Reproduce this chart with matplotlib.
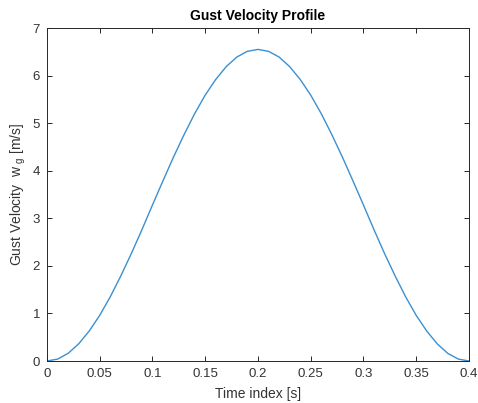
import matplotlib
matplotlib.use("Agg")
import matplotlib.pyplot as plt

# gust profile (time step 0.01 s)
time_s = [0.00, 0.01, 0.02, 0.03, 0.04, 0.05, 0.06, 0.07, 0.08, 0.09, 0.10,
          0.11, 0.12, 0.13, 0.14, 0.15, 0.16, 0.17, 0.18, 0.19, 0.20,
          0.21, 0.22, 0.23, 0.24, 0.25, 0.26, 0.27, 0.28, 0.29, 0.30,
          0.31, 0.32, 0.33, 0.34, 0.35, 0.36, 0.37, 0.38, 0.39, 0.40]
gust_vel = [0.00, 0.04, 0.16, 0.36, 0.63, 0.96, 1.35, 1.79, 2.26, 2.76, 3.28,
            3.79, 4.29, 4.76, 5.20, 5.59, 5.92, 6.19, 6.39, 6.51, 6.55,
            6.51, 6.39, 6.19, 5.92, 5.59, 5.20, 4.76, 4.29, 3.79, 3.28,
            2.76, 2.26, 1.79, 1.35, 0.96, 0.63, 0.36, 0.16, 0.04, 0.00]

xticks = [0, 0.05, 0.1, 0.15, 0.2, 0.25, 0.3, 0.35, 0.4]
xticklabels = ["0", "0.05", "0.1", "0.15", "0.2", "0.25", "0.3", "0.35", "0.4"]
yticks = [0, 1, 2, 3, 4, 5, 6, 7]

plt.rcParams["font.family"] = ["Liberation Sans", "DejaVu Sans"]
plt.rcParams["mathtext.default"] = "regular"

fig = plt.figure(figsize=(4.78, 4.03), dpi=100)
ax = fig.add_axes([0.0983, 0.1042, 0.8827, 0.8263])

ax.plot(time_s, gust_vel, color="#3A90D2", linewidth=1.0)

ax.set_xlim(0, 0.4)
ax.set_ylim(0, 7)
ax.set_xticks(xticks)
ax.set_xticklabels(xticklabels)
ax.set_yticks(yticks)

grey = "#262626"
for s in ax.spines.values():
    s.set_color(grey)
    s.set_linewidth(0.7)
ax.tick_params(direction="in", top=True, right=True, length=3.5, width=0.7,
               colors=grey, labelsize=9.5, pad=5)
for lbl in ax.get_xticklabels() + ax.get_yticklabels():
    lbl.set_color("#333333")

ax.set_title("Gust Velocity Profile", fontsize=10, fontweight="bold", color="black", pad=6)
ax.set_xlabel("Time index [s]", fontsize=10, color="#333333", labelpad=5)
ax.set_ylabel("Gust Velocity  w$_{\\ g}$ [m/s]", fontsize=10, color="#333333", labelpad=3)

fig.savefig("out.png", dpi=100)
